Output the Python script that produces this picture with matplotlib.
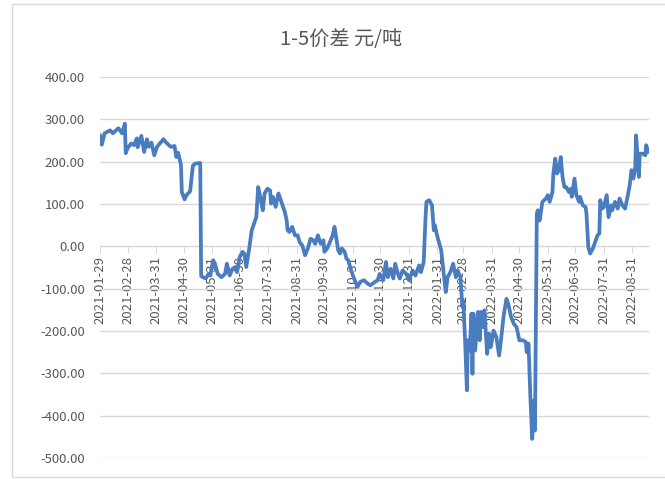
import numpy as np
import pandas as pd
import matplotlib
matplotlib.use("Agg")
import matplotlib.pyplot as plt
from matplotlib.patches import Rectangle
from matplotlib.ticker import FormatStrFormatter

plt.rcParams['font.family'] = ['Noto Sans CJK SC', 'DejaVu Sans']

start_date = "2021-01-29"

# days since start_date
day_offsets = [
    0, 2, 5, 11, 14, 20, 24, 27, 28, 30, 34, 37, 40, 41, 45, 48, 51, 53, 56, 59,
    62, 65, 69, 72, 77, 81, 83, 85, 88, 89, 92, 94, 98, 101, 103, 109, 110, 112, 115, 118,
    120, 123, 125, 128, 132, 136, 138, 141, 144, 147, 149, 152, 155, 157, 159, 162, 165, 168, 170, 172,
    175, 177, 179, 182, 185, 186, 188, 191, 194, 196, 201, 203, 204, 206, 209, 212, 215, 217, 220, 223,
    226, 229, 232, 234, 237, 240, 243, 244, 247, 250, 253, 255, 257, 259, 261, 263, 266, 268, 270, 273,
    277, 280, 283, 287, 291, 294, 299, 302, 304, 308, 311, 313, 316, 319, 321, 324, 326, 329, 333, 336,
    340, 343, 347, 349, 352, 354, 355, 358, 361, 363, 364, 367, 371, 373, 376, 378, 381, 384, 387, 389,
    392, 394, 395, 397, 399, 400, 402, 404, 405, 406, 408, 411, 413, 414, 417, 418, 421, 423, 425, 428,
    431, 434, 436, 439, 442, 444, 447, 450, 453, 456, 460, 463, 464, 466, 468, 470, 472, 473, 475, 476,
    478, 480, 481, 485, 487, 489, 492, 493, 495, 497, 499, 501, 503, 505, 507, 510, 512, 513, 516, 518,
    521, 522, 525, 528, 529, 531, 533, 536, 539, 541, 543, 544, 546, 548, 551, 553, 556, 557, 560, 563,
    565, 568, 571, 574, 576, 578, 580, 582, 583, 586, 587, 590, 593, 594, 596,
]

spread = [
    262, 240, 267, 274, 267, 279, 267, 290, 220, 232, 243, 239, 255, 234, 261, 223, 253, 235, 245, 215,
    235, 243, 253, 245, 235, 237, 211, 221, 193, 128, 111, 121, 130, 190, 195, 197, -70, -73, -76, -65,
    -69, -33, -41, -65, -73, -65, -41, -69, -53, -49, -61, -25, -13, -17, -49, -9, 38, 57, 69, 140,
    109, 85, 125, 136, 132, 101, 117, 93, 125, 113, 81, 61, 38, 34, 46, 26, 26, 10, 2, -21,
    -5, 18, 14, 6, 26, 6, 14, -13, -5, 10, 26, 46, 18, -9, -17, -5, -13, -29, -33, -57,
    -80, -96, -84, -80, -88, -92, -84, -80, -65, -80, -37, -73, -53, -76, -41, -65, -76, -57, -65, -80,
    -57, -69, -45, -61, -37, 69, 105, 109, 97, 38, 50, 22, -9, -49, -108, -73, -61, -41, -73, -57,
    -73, -143, -128, -222, -340, -222, -246, -159, -301, -159, -246, -155, -222, -155, -191, -151, -254, -206, -238, -199,
    -214, -258, -222, -163, -124, -136, -167, -183, -191, -222, -222, -226, -250, -230, -356, -455, -364, -435, 77, 85,
    61, 89, 105, 113, 121, 105, 128, 172, 207, 172, 180, 211, 164, 140, 140, 128, 136, 117, 160, 121,
    105, 117, 97, 93, 77, -2, -17, -5, 14, 26, 30, 109, 89, 93, 121, 69, 97, 85, 105, 89,
    113, 97, 89, 121, 144, 180, 160, 184, 262, 164, 219, 219, 215, 239, 223,
]

tick_dates = [
    "2021-01-29", "2021-02-28", "2021-03-31", "2021-04-30", "2021-05-31", "2021-06-30",
    "2021-07-31", "2021-08-31", "2021-09-30", "2021-10-31", "2021-11-30", "2021-12-31",
    "2022-01-31", "2022-02-28", "2022-03-31", "2022-04-30", "2022-05-31", "2022-06-30",
    "2022-07-31", "2022-08-31",
]

title = "1-5价差 元/吨"

dates = pd.Timestamp(start_date) + pd.to_timedelta(day_offsets, unit="D")
ticks = pd.to_datetime(tick_dates)

fig = plt.figure(figsize=(6.65, 4.79), dpi=100)
ax = fig.add_axes([100 / 665, 21 / 479, 549 / 665, 381 / 479])

# outer chart border
fig.patches.append(Rectangle((12 / 665, 2 / 479), 1.0, 473 / 479, transform=fig.transFigure,
                             fill=False, edgecolor="#d9d9d9", linewidth=1.0))

ax.plot(dates, spread, color="#4a7cc0", linewidth=2.7, solid_joinstyle="round", zorder=3)

ax.set_ylim(-500, 400)
ax.set_yticks(np.arange(-500, 401, 100))
ax.yaxis.set_major_formatter(FormatStrFormatter("%.2f"))
ax.set_xlim(pd.Timestamp(start_date), pd.Timestamp(start_date) + pd.Timedelta(days=597))
ax.set_xticks(ticks)
ax.set_xticklabels(tick_dates)

ax.grid(axis="y", color="#d9d9d9", linewidth=1.0)
for s in ["left", "right", "top"]:
    ax.spines[s].set_visible(False)
ax.spines["bottom"].set_position(("data", 0))
ax.spines["bottom"].set_color("#d9d9d9")
ax.tick_params(axis="y", length=0, labelsize=9.5, labelcolor="#595959", pad=11)
ax.tick_params(axis="x", length=5, color="#d9d9d9", labelsize=9.5, labelcolor="#595959",
               pad=2, labelrotation=90)

fig.text(341 / 665, 1 - 40 / 479, title, ha="center", va="center", fontsize=14.5, color="#595959")

fig.savefig("out.png", dpi=100)
